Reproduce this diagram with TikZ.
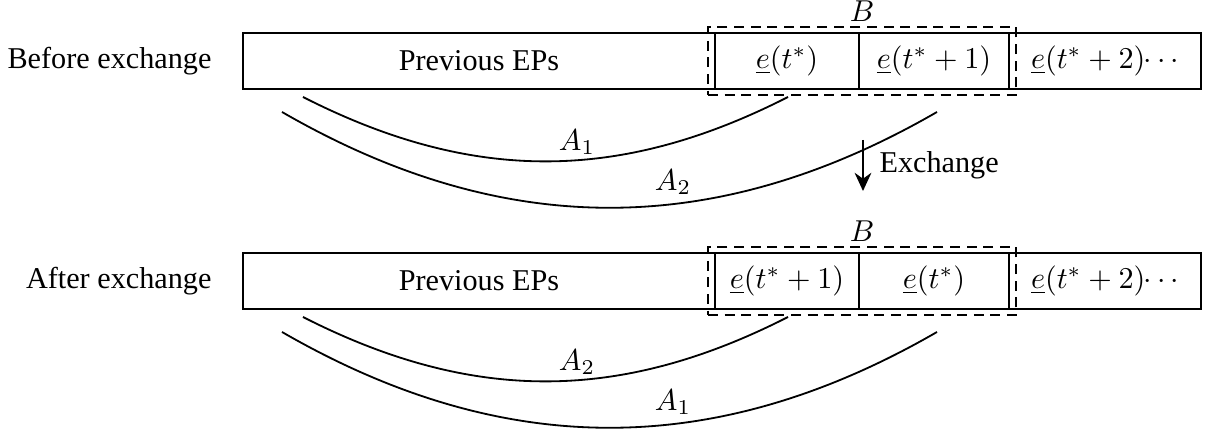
\documentclass[tikz,border=0pt]{standalone}
\usepackage[no-math]{fontspec}
\setmainfont{Liberation Serif}
\usetikzlibrary{arrows.meta}
\begin{document}
\begin{tikzpicture}[x=0.331pt,y=-0.331pt,
  cell/.style={draw, line width=0.6pt, minimum height=56*0.331pt, inner sep=0pt, outer sep=0pt, font=\fontsize{10}{12}\selectfont},
  bbox/.style={draw, line width=0.6pt, dash pattern=on 3.3pt off 2.2pt, minimum width=308*0.331pt, minimum height=68*0.331pt, inner sep=0pt},
  rowlabel/.style={anchor=east, inner sep=0pt, font=\fontsize{10}{12}\selectfont},
  lbl/.style={inner sep=0pt, font=\fontsize{10}{12}\selectfont},
  arc/.style={line width=0.6pt}
]
\useasboundingbox (0,0) rectangle (1208,433);

% ---------- top row ----------
\node[rowlabel] (lb1) at (212,61) {Before exchange};
\node[cell, minimum width=472*0.331pt] (p1) at (479,61) {Previous EPs};
\node[cell, minimum width=144*0.331pt] (c11) at (787,61) {$\underline{e}(t^*)$};
\node[cell, minimum width=150*0.331pt] (c12) at (934,61) {$\underline{e}(t^*+1)$};
\node[cell, minimum width=192*0.331pt] (c13) at (1105,61) {$\underline{e}(t^*+2)\mkern-4mu\cdots$};
\node[bbox] (b1) at (862,61) {};
\node[lbl] (bl1) at (862,11) {$B$};

\coordinate (a1s) at (303,97);
\coordinate (a1e) at (788,97);
\coordinate (a2s) at (282,112);
\coordinate (a2e) at (937,112);
\draw[arc] (a1s) to[out=-27,in=-153] (a1e);
\draw[arc] (a2s) to[out=-30,in=-150] (a2e);
\node[lbl] (A1t) at (577,142) {$A_1$};
\node[lbl] (A2t) at (673,182) {$A_2$};

% ---------- exchange arrow ----------
\coordinate (xs) at (863,140);
\coordinate (xe) at (863,191);
\draw[line width=0.9pt, -{Stealth[length=6pt,width=5.5pt]}] (xs) -- (xe);
\node[lbl, anchor=west] (ex) at (879,165) {Exchange};

% ---------- bottom row ----------
\node[rowlabel] (lb2) at (212,281) {After exchange};
\node[cell, minimum width=472*0.331pt] (p2) at (479,281) {Previous EPs};
\node[cell, minimum width=144*0.331pt] (c21) at (787,281) {$\underline{e}(t^*+1)$};
\node[cell, minimum width=150*0.331pt] (c22) at (934,281) {$\underline{e}(t^*)$};
\node[cell, minimum width=192*0.331pt] (c23) at (1105,281) {$\underline{e}(t^*+2)\mkern-4mu\cdots$};
\node[bbox] (b2) at (862,281) {};
\node[lbl] (bl2) at (862,231) {$B$};

\coordinate (b1s) at (303,317);
\coordinate (b1e) at (788,317);
\coordinate (b2s) at (282,332);
\coordinate (b2e) at (937,332);
\draw[arc] (b1s) to[out=-27,in=-153] (b1e);
\draw[arc] (b2s) to[out=-30,in=-150] (b2e);
\node[lbl] (A2b) at (577,362) {$A_2$};
\node[lbl] (A1b) at (673,402) {$A_1$};
\end{tikzpicture}
\end{document}
